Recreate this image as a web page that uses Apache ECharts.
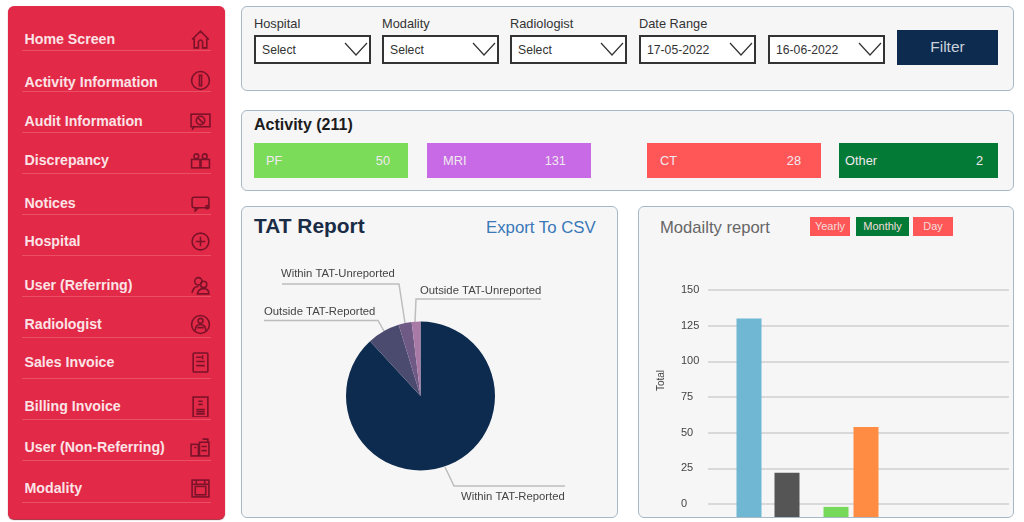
<!DOCTYPE html>
<html><head><meta charset="utf-8">
<script src="https://cdn.jsdelivr.net/npm/echarts@6/dist/echarts.min.js"></script>
<style>
html,body{margin:0;padding:0;width:1024px;height:522px;overflow:hidden;background:#fff;font-family:"Liberation Sans",Arial,sans-serif}
.a{position:absolute;white-space:nowrap}
.panel{position:absolute;box-sizing:border-box;background:#f6f6f7;border:1px solid #a9b8c6;border-radius:6px}
#side{left:8px;top:6px;width:217px;height:513px;background:#e22947;border-radius:6px;box-shadow:0 1px 1px #a3263a}
.nav{font-weight:bold;font-size:14.2px;color:#fbe3e6;left:24.5px;line-height:16px}
.rule{left:22px;width:189px;height:1px;background:#ea4f66}
.sel{box-sizing:border-box;border:2px solid #333;background:#fff;top:34.5px;height:29.5px;width:117px;font-size:12.2px;color:#333;line-height:26px;padding-left:6px}
.lab{font-size:12.8px;color:#333;top:15.5px;line-height:15px}
.tile{top:143px;height:35px;color:#f0e9ee;font-size:12.8px;line-height:35px}
.btn{top:217px;height:19px;line-height:19px;color:#f2dcdc;font-size:11px;text-align:center}
svg.ic{position:absolute;fill:none;stroke:#7a1229;stroke-width:1.5}
svg.ch{position:absolute;top:42px;fill:none;stroke:#333;stroke-width:1.2}
#chart{position:absolute;left:0;top:0;width:1024px;height:522px}
</style></head><body>
<div class="a" id="side"></div>
<div class="panel" style="left:241px;top:6px;width:773px;height:85px"></div>
<div class="panel" style="left:241px;top:110px;width:773px;height:81px"></div>
<div class="panel" style="left:241px;top:206px;width:377px;height:312px"></div>
<div class="panel" style="left:638px;top:206px;width:376px;height:312px"></div>
<div id="ui"></div>
<div id="chart"></div>
<script>
// sidebar
const navItems = ["Home Screen","Activity Information","Audit Information","Discrepancy","Notices","Hospital","User (Referring)","Radiologist","Sales Invoice","Billing Invoice","User (Non-Referring)","Modality"];
// filters
const filterLabels = ["Hospital","Modality","Radiologist","Date Range"];
const filterValues = ["Select","Select","Select","17-05-2022","16-06-2022"];
// activity tiles
const activityNames = ["PF","MRI","CT","Other"];
const activityValues = [50,131,28,2];
// TAT pie
const tatNames = ["Within TAT-Reported","Outside TAT-Reported","Within TAT-Unreported","Outside TAT-Unreported"];
const tatValues = [186,15,6,4];
// modality bars
const modalityTotals = [130,22,-2,54];
const axisTicks = [0,25,50,75,100,125,150];
const rangeButtons = ["Yearly","Monthly","Day"];

/* ---- layout, kept apart from the data ---- */
const navTextY=[39,81.5,120.5,160,203,241,284.5,324,362,405.5,447,488];
const navRuleY=[50,91,132,173,214,255,296,337,378,419,460,501.5];
const iconPaths=[
 '<path d="M2 10 L10 2 L18 10 M4 9 V18 H8 V12 Q10 9 12 12 V18 H16 V9"/>',
 '<circle cx="10" cy="10" r="8.5"/><rect x="9" y="5" width="2" height="10"/>',
 '<rect x="1" y="3" width="18" height="12"/><circle cx="10" cy="9" r="4"/><path d="M4 15 L2 18 M7 6 L13 12"/>',
 '<circle cx="6" cy="6" r="2.3"/><circle cx="14" cy="6" r="2.3"/><rect x="1.5" y="9" width="8" height="8"/><rect x="10.5" y="9" width="8" height="8"/>',
 '<rect x="2" y="4" width="16" height="10" rx="2"/><path d="M5 14 V17 L8 14"/><circle cx="16.5" cy="13.5" r="1.5"/>',
 '<circle cx="10" cy="10" r="8"/><path d="M10 5.5 V14.5 M5.5 10 H14.5"/>',
 '<circle cx="8" cy="6" r="3.5"/><circle cx="13" cy="9" r="3"/><path d="M2 17 Q3 11 8 11 M7 18 Q8 13 13 13 Q18 13 18 18 Z"/>',
 '<circle cx="10" cy="10" r="8.5"/><circle cx="10" cy="6.5" r="2.3"/><path d="M5 16 Q5 10 10 10 Q15 10 15 16 M7 13 H13"/>',
 '<rect x="3" y="1" width="14" height="18" rx="1"/><path d="M6 5 H11 M6 9 H14 M6 13 H14 M12 3 V7"/>',
 '<rect x="3" y="1" width="14" height="19"/><path d="M8 5 H12 M8 8 H12 M6 13 H14 M6 15 H14 M6 17 H14"/>',
 '<rect x="1" y="7" width="7" height="11"/><rect x="9" y="5" width="9" height="13"/><path d="M12 2 H17 V5 M4 10 H6 M11 9 H16 M11 13 H16"/>',
 '<rect x="2" y="2" width="16" height="16"/><rect x="5" y="8" width="10" height="8"/><path d="M2 6 H18 M6 2 V6 M14 2 V6"/>'
];
const filterLabelX=[254,382,510,639];
const filterBoxX=[254,382,510,639,768];
const tileBox=[[254,154,266,390],[427,164,443,566],[647,174,660,801],[839,159,845,983]];
const tileColors=['#7bdc5a','#c86ae6','#ff5757','#047a37'];
const btnBox=[[810,40,'#ff5757'],[856,53,'#047a37'],[913,40,'#ff5757']];
let h='';
navItems.forEach((t,i)=>{
 h+=`<div class="a nav" style="top:${navTextY[i]-8}px">${t}</div><div class="a rule" style="top:${navRuleY[i]}px"></div>`;
 h+=`<svg class="ic" viewBox="0 0 20 20" width="21" height="21" style="left:190px;top:${navTextY[i]-10+(i==1?-2:0)}px">${iconPaths[i]}</svg>`;
});
filterLabels.forEach((t,i)=>{h+=`<div class="a lab" style="left:${filterLabelX[i]}px">${t}</div>`;});
filterValues.forEach((t,i)=>{
 h+=`<div class="a sel" style="left:${filterBoxX[i]}px">${t}</div>`;
 h+=`<svg class="ch" width="24" height="14" style="left:${filterBoxX[i]+90}px"><path d="M1 1 L12 13 L23 1"/></svg>`;
});
h+=`<div class="a" style="left:897px;top:30px;width:101px;height:35px;background:#0d2b4e;color:#c9d2dc;font-size:15.5px;line-height:34px;text-align:center">Filter</div>`;
h+=`<div class="a" style="left:254px;top:115px;font-size:16px;font-weight:bold;color:#1c1c1c;line-height:19px">Activity (${activityValues.reduce((a,b)=>a+b,0)})</div>`;
activityNames.forEach((n,i)=>{
 const b=tileBox[i];
 h+=`<div class="a tile" style="left:${b[0]}px;width:${b[1]}px;background:${tileColors[i]}"></div>`;
 h+=`<div class="a tile" style="left:${b[2]}px">${n}</div><div class="a tile" style="left:${b[3]-40}px;width:40px;text-align:right">${activityValues[i]}</div>`;
});
h+=`<div class="a" style="left:254px;top:214px;font-size:20.9px;font-weight:bold;color:#1a2b45;line-height:24px">TAT Report</div>`;
h+=`<div class="a" style="left:486px;top:218px;font-size:16.8px;color:#3a78b8;line-height:20px">Export To CSV</div>`;
h+=`<div class="a" style="left:660px;top:218px;font-size:16.6px;color:#666;line-height:20px">Modailty report</div>`;
rangeButtons.forEach((t,i)=>{const b=btnBox[i];h+=`<div class="a btn" style="left:${b[0]}px;width:${b[1]}px;background:${b[2]}">${t}</div>`;});
document.getElementById('ui').innerHTML=h;

const pieColors=['#0d2b4e','#4b4b6f','#6f5a85','#a87aa5'];
const barColors=['#6fb7d2','#555555','#77d95a','#ff8c42'];
const barSlots=[41,79,128,158];
const barPx=25;
const axisFloor=-9.1;
const labelSpots=[
 {x:461,y:496.5,align:'left',line:[[445,467],[454,486],[565,486]]},
 {x:264,y:311.5,align:'left',line:[[384,331],[378,320.5],[264,320.5]]},
 {x:281,y:273.5,align:'left',line:[[405,323],[399,284],[282,284]]},
 {x:420,y:291,align:'left',line:[[415,322],[416,299],[541,299]]}
];
const chart=echarts.init(document.getElementById('chart'),null,{width:1024,height:522});
chart.setOption({
 backgroundColor:'transparent',animation:false,
 grid:{left:708,right:15,top:290,bottom:5},
 xAxis:{type:'value',min:0,max:301,show:false},
 yAxis:{type:'value',min:axisFloor,max:150,
  axisLine:{show:false},
  axisLabel:{customValues:axisTicks,align:'left',margin:27,color:'#444',fontSize:11,fontFamily:'Liberation Sans'},
  axisTick:{show:false,customValues:axisTicks},
  splitLine:{lineStyle:{color:'#cfcfcf',width:1.5}},
  name:'Total',nameLocation:'middle',nameRotate:90,nameGap:42,
  nameTextStyle:{color:'#444',fontSize:10,fontFamily:'Liberation Sans',padding:[0,0,0,46]}},
 series:[
 {type:'custom',clip:true,coordinateSystem:'cartesian2d',encode:{x:0,y:1},
  data:modalityTotals.map((v,i)=>({value:[barSlots[i],v],itemStyle:{color:barColors[i]}})),
  renderItem:(params,api)=>{
   const top=api.coord([api.value(0),api.value(1)]);
   const base=api.coord([api.value(0),axisFloor]);
   return {type:'rect',shape:{x:top[0]-barPx/2,y:top[1],width:barPx,height:base[1]-top[1]},style:{fill:barColors[params.dataIndex]}};
  }},
 {type:'pie',center:[420.5,396],radius:[0,74.5],startAngle:90,clockwise:true,
  data:tatNames.map((n,i)=>({name:n,value:tatValues[i],itemStyle:{color:pieColors[i]}})),
  label:{show:true,color:'#444',fontSize:11.3,fontFamily:'Liberation Sans',formatter:'{b}'},
  labelLine:{show:true,lineStyle:{color:'#bdbdbd',width:1.5}},
  labelLayout:p=>{const s=labelSpots[p.dataIndex];return {x:s.x,y:s.y,align:s.align,verticalAlign:'middle',labelLinePoints:s.line};}
 }]
});
</script></body></html>
